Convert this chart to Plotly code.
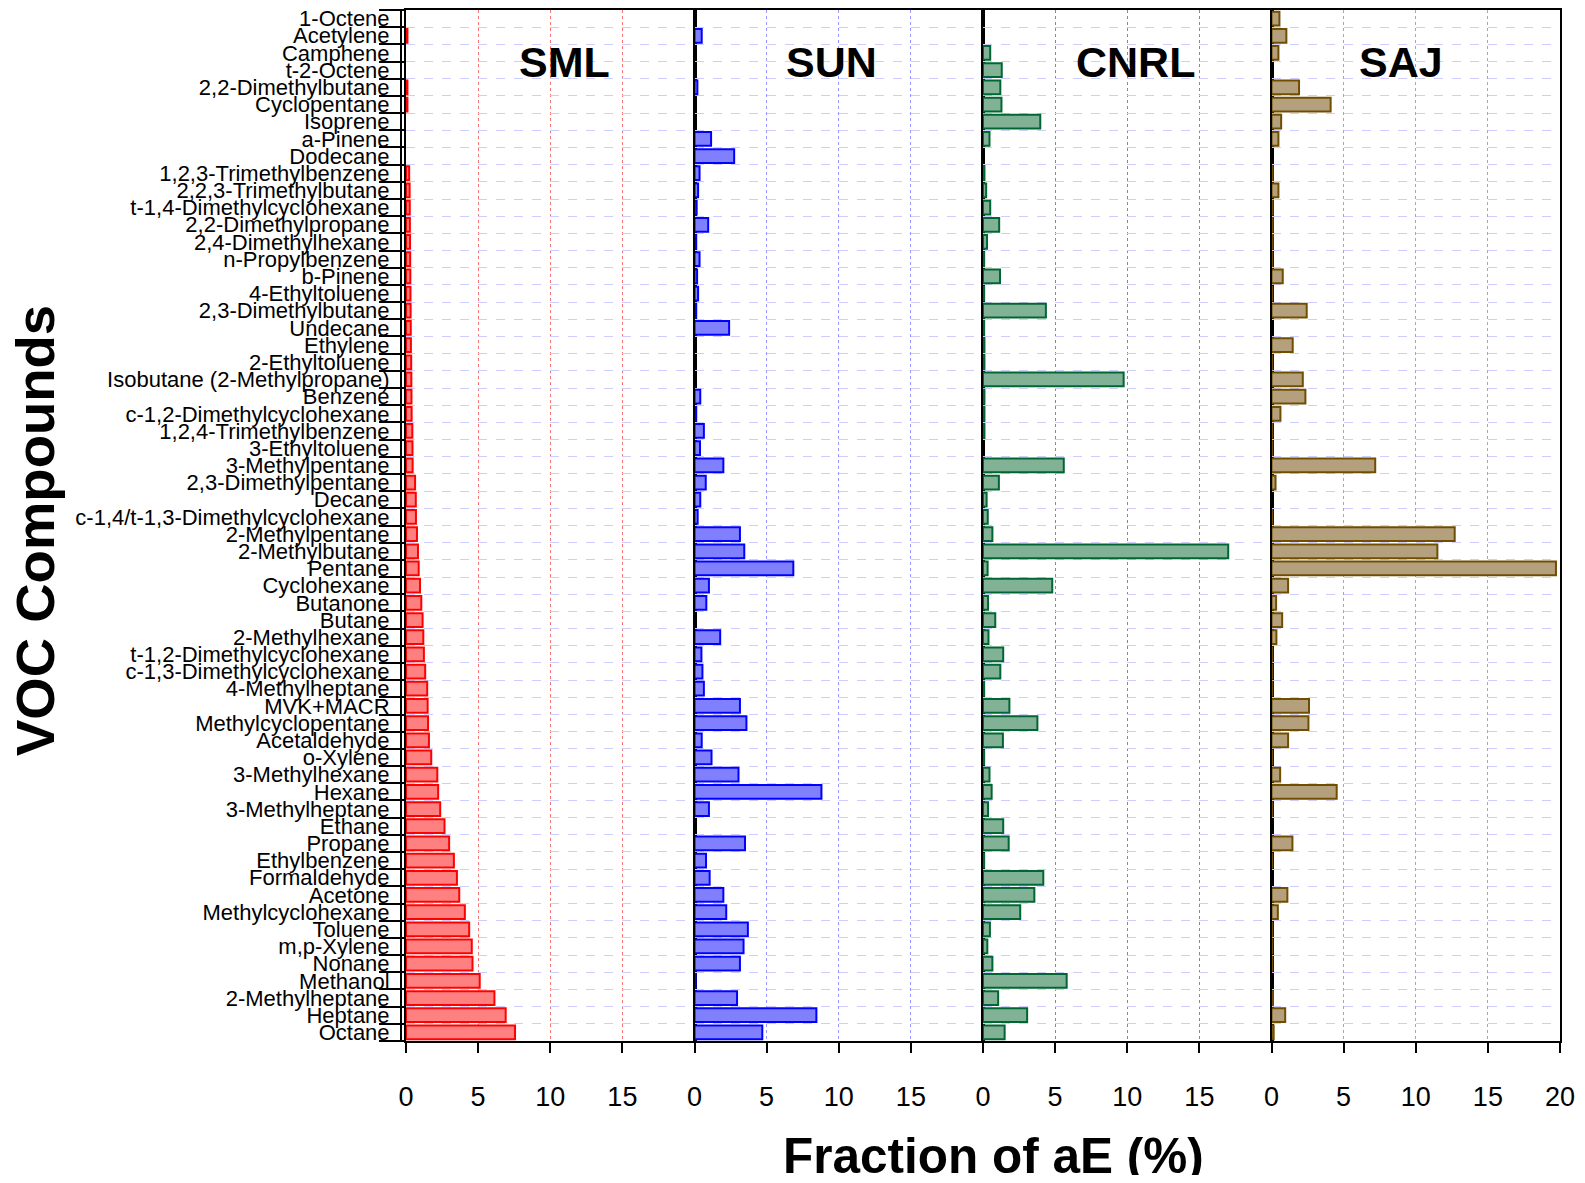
import plotly.graph_objects as go
from plotly.subplots import make_subplots

compounds = [
    "1-Octene", "Acetylene", "Camphene", "t-2-Octene", "2,2-Dimethylbutane",
    "Cyclopentane", "Isoprene", "a-Pinene", "Dodecane", "1,2,3-Trimethylbenzene",
    "2,2,3-Trimethylbutane", "t-1,4-Dimethylcyclohexane", "2,2-Dimethylpropane",
    "2,4-Dimethylhexane", "n-Propylbenzene", "b-Pinene", "4-Ethyltoluene",
    "2,3-Dimethylbutane", "Undecane", "Ethylene", "2-Ethyltoluene",
    "Isobutane (2-Methylpropane)", "Benzene", "c-1,2-Dimethylcyclohexane",
    "1,2,4-Trimethylbenzene", "3-Ethyltoluene", "3-Methylpentane",
    "2,3-Dimethylpentane", "Decane", "c-1,4/t-1,3-Dimethylcyclohexane",
    "2-Methylpentane", "2-Methylbutane", "Pentane", "Cyclohexane", "Butanone",
    "Butane", "2-Methylhexane", "t-1,2-Dimethylcyclohexane",
    "c-1,3-Dimethylcyclohexane", "4-Methylheptane", "MVK+MACR",
    "Methylcyclopentane", "Acetaldehyde", "o-Xylene", "3-Methylhexane", "Hexane",
    "3-Methylheptane", "Ethane", "Propane", "Ethylbenzene", "Formaldehyde",
    "Acetone", "Methylcyclohexane", "Toluene", "m,p-Xylene", "Nonane", "Methanol",
    "2-Methylheptane", "Heptane", "Octane",
]

sml = [None, 0.1, None, None, 0.1, 0.1, None, None, None, 0.22,
       0.25, 0.26, 0.27, 0.28, 0.29, 0.3, 0.31, 0.32, 0.33, 0.34,
       0.36, 0.37, 0.38, 0.39, 0.44, 0.45, 0.46, 0.63, 0.68, 0.69,
       0.76, 0.83, 0.88, 0.97, 1.06, 1.15, 1.2, 1.24, 1.33, 1.47,
       1.5, 1.53, 1.59, 1.75, 2.17, 2.23, 2.37, 2.67, 2.99, 3.32,
       3.53, 3.69, 4.08, 4.38, 4.56, 4.61, 5.11, 6.13, 6.91, 7.56]

sun = [None, 0.5, None, None, 0.2, None, None, 1.15, 2.75, 0.35,
       0.25, 0.15, 0.95, 0.12, 0.35, 0.18, 0.25, 0.12, 2.4, None,
       None, None, 0.4, 0.12, 0.65, 0.38, 2.0, 0.78, 0.4, 0.22,
       3.15, 3.45, 6.85, 1.0, 0.82, None, 1.78, 0.48, 0.55, 0.65,
       3.15, 3.6, 0.5, 1.18, 3.05, 8.8, 1.0, None, 3.5, 0.8,
       1.05, 2.0, 2.2, 3.7, 3.4, 3.15, 0.08, 2.95, 8.45, 4.7]

cnrl = [None, None, 0.5, 1.3, 1.2, 1.28, 3.97, 0.45, None, 0.1,
        0.22, 0.5, 1.12, 0.28, 0.08, 1.18, 0.08, 4.36, 0.08, 0.1,
        0.1, 9.75, 0.1, 0.1, 0.1, None, 5.6, 1.1, 0.25, 0.33,
        0.65, 17.0, 0.32, 4.8, 0.35, 0.85, 0.38, 1.4, 1.2, 0.08,
        1.83, 3.77, 1.38, 0.08, 0.45, 0.6, 0.35, 1.4, 1.78, 0.08,
        4.18, 3.56, 2.58, 0.48, 0.3, 0.65, 5.8, 1.05, 3.06, 1.5]

saj = [0.55, 1.03, 0.48, None, 1.91, 4.1, 0.67, 0.48, None, 0.08,
       0.48, 0.08, 0.08, 0.08, 0.06, 0.78, 0.06, 2.44, None, 1.47,
       0.06, 2.17, 2.35, 0.62, 0.06, 0.06, 7.19, 0.28, None, 0.06,
       12.7, 11.5, 19.72, 1.15, 0.32, 0.74, 0.34, 0.06, 0.06, 0.06,
       2.6, 2.56, 1.15, 0.06, 0.6, 4.52, 0.06, None, 1.45, 0.06,
       None, 1.1, 0.44, 0.06, 0.06, 0.06, None, 0.1, 0.95, 0.15]

sites = ["SML", "SUN", "CNRL", "SAJ"]
site_values = [sml, sun, cnrl, saj]
fill_colors = ["rgb(255,128,128)", "rgb(128,128,255)", "rgb(130,178,150)", "rgb(180,160,124)"]
line_colors = ["rgb(255,0,0)", "rgb(0,0,255)", "rgb(0,102,51)", "rgb(112,78,0)"]
grid_colors = ["rgb(240,120,120)", "rgb(150,150,255)", "rgb(90,170,90)", "rgb(185,165,135)"]
label_x = [11.0, 9.5, 10.6, 9.0]
x_ticks_inner = [0, 5, 10, 15]
x_ticks_last = [0, 5, 10, 15, 20]

FONT = "Arial, 'Liberation Sans', sans-serif"

fig = make_subplots(rows=1, cols=4, shared_yaxes=True, horizontal_spacing=0)

for i, (name, vals) in enumerate(zip(sites, site_values)):
    fig.add_trace(
        go.Bar(
            x=vals, y=compounds, orientation="h", name=name, width=0.8,
            marker=dict(color=fill_colors[i], line=dict(color=line_colors[i], width=2)),
        ),
        row=1, col=i + 1,
    )
    tv = x_ticks_last if i == 3 else x_ticks_inner
    fig.update_xaxes(
        range=[0, 20], tickvals=tv, ticktext=[str(v) for v in tv],
        showgrid=True, gridcolor=grid_colors[i], griddash="dot", gridwidth=1,
        zeroline=False, showline=True, linecolor="black", linewidth=2, mirror=True,
        ticks="outside", ticklen=10, tickwidth=2, tickcolor="black",
        tickfont=dict(family=FONT, size=27, color="black"),
        ticklabelstandoff=21, automargin=False,
        row=1, col=i + 1,
    )
    fig.add_annotation(
        text="<b>%s</b>" % name, x=label_x[i], y=0.9496,
        xref="x" if i == 0 else "x%d" % (i + 1), yref="paper",
        showarrow=False, font=dict(family=FONT, size=43, color="black"),
        xanchor="center", yanchor="middle",
    )

fig.update_yaxes(
    type="category", categoryorder="array", categoryarray=compounds,
    range=[len(compounds) - 0.5, -0.5],
    tickmode="array", tickvals=compounds, ticktext=compounds,
    showgrid=True, gridcolor="rgb(205,205,255)", griddash="dash", gridwidth=1,
    tickson="boundaries", zeroline=False, automargin=False,
    showline=True, linecolor="black", linewidth=2, mirror=True,
)
fig.update_yaxes(
    ticks="outside", ticklen=25, tickwidth=1.5, tickcolor="black",
    tickfont=dict(family=FONT, size=22, color="black"),
    ticklabelstandoff=10,
    row=1, col=1,
)
for c in (2, 3, 4):
    fig.update_yaxes(ticks="", showticklabels=False, row=1, col=c)

fig.add_shape(type="line", xref="paper", yref="paper",
              x0=-5 / 1154, x1=-5 / 1154, y0=0, y1=1,
              line=dict(color="black", width=2))

fig.add_annotation(text="<b>Fraction of aE (%)</b>", x=0.5087, y=-0.1106,
                   xref="paper", yref="paper", showarrow=False,
                   font=dict(family=FONT, size=49.5, color="black"),
                   xanchor="center", yanchor="middle")
fig.add_annotation(text="<b>VOC Compounds</b>", x=-0.3206, y=0.4947,
                   xref="paper", yref="paper", showarrow=False, textangle=-90,
                   font=dict(family=FONT, size=54.5, color="black"),
                   xanchor="center", yanchor="middle")

fig.update_layout(
    width=1569, height=1167,
    margin=dict(l=398, r=17, t=2, b=134),
    plot_bgcolor="white", paper_bgcolor="white",
    showlegend=False, bargap=0.2,
    font=dict(family=FONT, color="black"),
)

fig.write_html("out.html")
